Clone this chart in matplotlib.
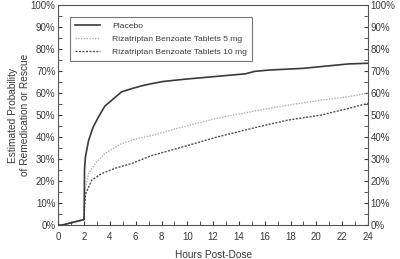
import matplotlib
matplotlib.use("Agg")
import matplotlib.pyplot as plt
from matplotlib.ticker import MultipleLocator, FuncFormatter

plt.rcParams['font.family'] = ['Liberation Sans', 'DejaVu Sans']

placebo_t = [0, 0.3, 1.98, 2.0, 2.03, 2.1, 2.35, 2.7, 3.1, 3.6, 4.3, 4.9, 5.7, 6.5, 7.2, 8.1, 9.7, 12.0, 14.5, 15.2, 16.3, 19.0, 20.9, 22.5, 24]
placebo_v = [0, 0, 2.5, 2.5, 25, 31, 38.5, 44.5, 49, 54, 57.5, 60.5, 62, 63.3, 64.2, 65.2, 66.2, 67.4, 68.7, 69.8, 70.4, 71.2, 72.3, 73.2, 73.5]

mg5_t = [0, 0.3, 1.98, 2.0, 2.03, 2.1, 2.35, 2.86, 3.6, 4.9, 6.2, 7.2, 9.7, 12.3, 15.4, 17.8, 20.4, 22.5, 24]
mg5_v = [0, 0, 2.5, 2.5, 10, 17, 23.5, 28, 32.5, 37, 39.4, 40.6, 44.7, 48.5, 52, 54.5, 56.8, 58.3, 60]

mg10_t = [0, 0.3, 1.98, 2.0, 2.03, 2.1, 2.6, 3.4, 4.4, 5.7, 7.2, 9.7, 12.3, 15.4, 17.8, 20.4, 22.5, 24]
mg10_v = [0, 0, 2.5, 2.5, 8, 14, 20.5, 23.5, 25.8, 28, 31.5, 35.6, 40, 44.5, 47.7, 50, 53, 55.3]

labels = ["Placebo", "Rizatriptan Benzoate Tablets 5 mg", "Rizatriptan Benzoate Tablets 10 mg"]

txt = '#3a3a3a'
fig = plt.figure(figsize=(4.0, 2.59), dpi=100)
ax = fig.add_axes([0.1458, 0.131, 0.7742, 0.85])

ax.plot(mg5_t, mg5_v, color='#b0b0b0', lw=1.0, ls=(0, (1, 1)), label=labels[1], zorder=2)
ax.plot(mg10_t, mg10_v, color='#505050', lw=1.0, ls=(0, (1.5, 1)), label=labels[2], zorder=2)
ax.plot(placebo_t, placebo_v, color='#3a3a3a', lw=1.2, label=labels[0], zorder=3)

ax.set_xlim(0, 24)
ax.set_ylim(0, 100)
ax.xaxis.set_major_locator(MultipleLocator(2))
ax.xaxis.set_minor_locator(MultipleLocator(1))
ax.yaxis.set_major_locator(MultipleLocator(10))
ax.yaxis.set_minor_locator(MultipleLocator(5))
ax.yaxis.set_major_formatter(FuncFormatter(lambda v, p: f"{int(v)}%"))
ax.tick_params(axis='both', which='both', direction='in', labelsize=7, colors=txt, pad=2)
ax.tick_params(axis='x', which='both', pad=5)
ax.tick_params(axis='y', which='both', left=True, right=True, labelleft=True, labelright=True)
ax.tick_params(which='major', length=3)
ax.tick_params(which='minor', length=3)
for s in ax.spines.values():
    s.set_color('#555555')
    s.set_linewidth(0.8)

ax.set_xlabel("Hours Post-Dose", fontsize=7.3, color=txt, labelpad=6)
ax.set_ylabel("Estimated Probability\nof Remedication or Rescue", fontsize=7.3, color=txt, labelpad=0.5)

h, l = ax.get_legend_handles_labels()
order = [2, 0, 1]
leg = ax.legend([h[i] for i in order], [l[i] for i in order], loc='upper left',
                bbox_to_anchor=(0.038, 0.945), borderaxespad=0, fontsize=6.1, frameon=True,
                fancybox=False, edgecolor='#555555', handlelength=2.9, handletextpad=1.5,
                borderpad=0.6, labelspacing=0.62)
leg.get_frame().set_linewidth(0.8)
for t in leg.get_texts():
    t.set_color(txt)

fig.savefig("out.png", dpi=100)
